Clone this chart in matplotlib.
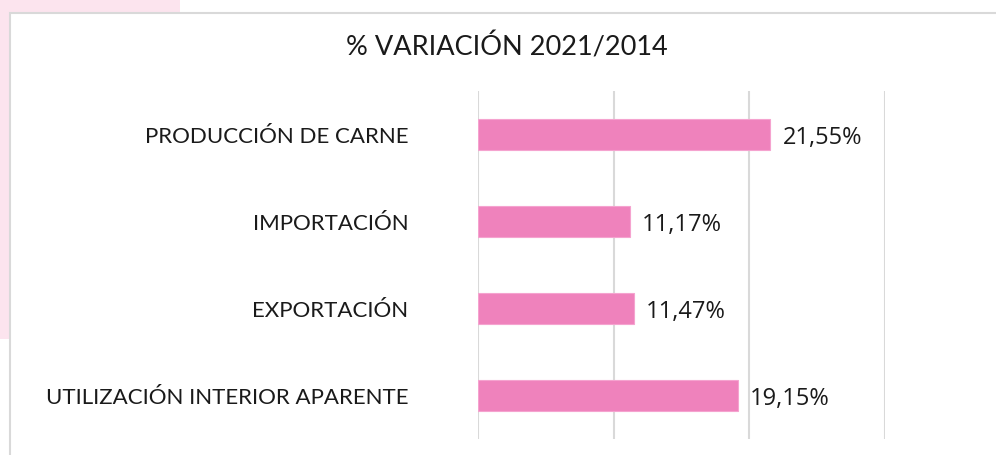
import matplotlib
matplotlib.use("Agg")
import matplotlib.pyplot as plt
from matplotlib.patches import Rectangle

categories = ["PRODUCCIÓN DE CARNE", "IMPORTACIÓN", "EXPORTACIÓN", "UTILIZACIÓN INTERIOR APARENTE"]
values = [21.55, 11.17, 11.47, 19.15]
value_labels = ["21,55%", "11,17%", "11,47%", "19,15%"]
title = "% VARIACIÓN 2021/2014"

W, H = 996, 456
fig = plt.figure(figsize=(W / 100, H / 100), dpi=100)
fig.patch.set_facecolor("white")

# slide background decoration and chart frame
fig.patches.append(Rectangle((0, 1 - 340 / H), 180 / W, 340 / H, transform=fig.transFigure,
                             facecolor="#FCE4EE", edgecolor="none", zorder=0))
fig.patches.append(Rectangle((9.5 / W, -0.05), 1.1, 1 - 13.5 / H + 0.05, transform=fig.transFigure,
                             facecolor="white", edgecolor="#D9D9D9", linewidth=1.5, zorder=1))

ax = fig.add_axes([478 / W, 16 / H, (885 - 478) / W, (440 - 92) / H])
ax.set_facecolor("none")
ax.set_zorder(2)
y = list(range(len(categories)))
ax.barh(y, values, height=0.345, color="#EF82BC", edgecolor="#F5A3CF", linewidth=0.8, zorder=3)
ax.set_xlim(0, 30)
ax.set_ylim(len(categories) - 0.5, -0.5)
ax.set_xticks([0, 10, 20, 30])
ax.xaxis.grid(True, color="#D9D9D9", linewidth=1.5)
ax.set_axisbelow(True)
ax.tick_params(axis="x", length=0, labelbottom=False)
ax.tick_params(axis="y", length=0, pad=50)
ax.set_yticks(y)
ax.set_yticklabels(categories, fontfamily="Lato", fontsize=16, color="#1a1a1a")
for s in ax.spines.values():
    s.set_visible(False)

for yi, v, lab in zip(y, values, value_labels):
    ax.annotate(lab, (v, yi), xytext=(9, -1.5), textcoords="offset points",
                va="center", ha="left", fontfamily="Open Sans", fontsize=17, color="#1a1a1a")

fig.text(507 / W, 1 - 47 / H, title, ha="center", va="center", fontfamily="Lato",
         fontsize=19.5, color="#1a1a1a", zorder=3)

fig.savefig("out.png", dpi=100)
